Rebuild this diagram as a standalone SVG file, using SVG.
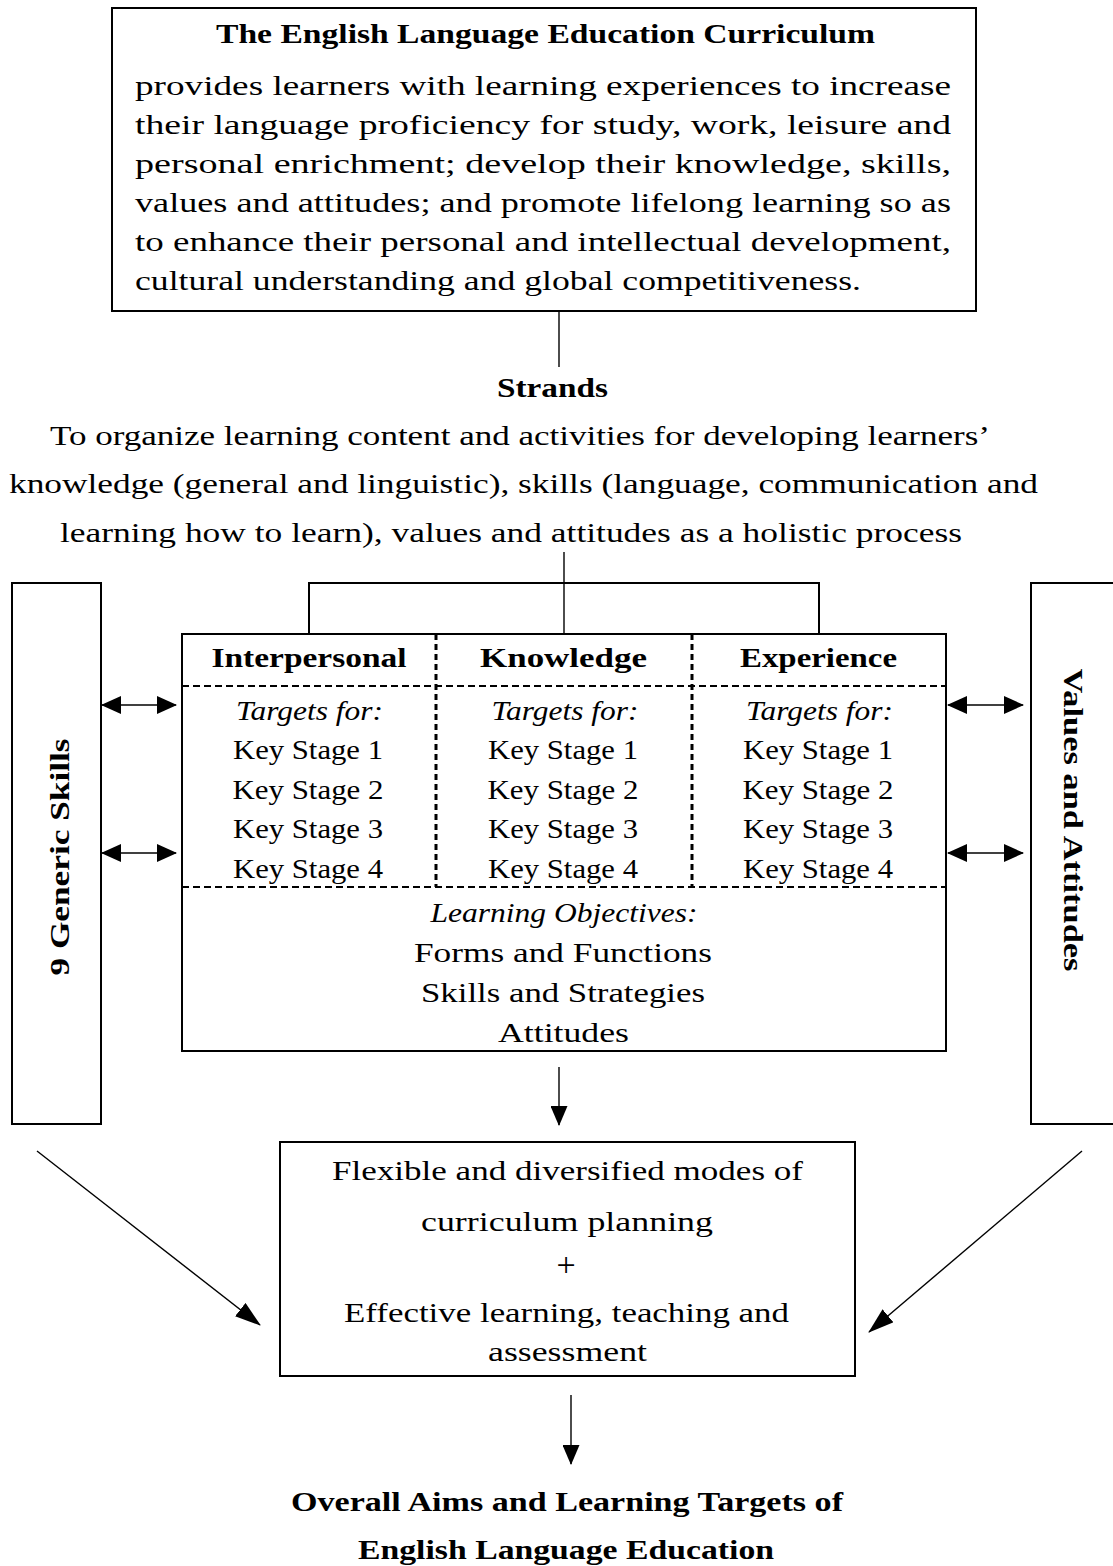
<svg xmlns="http://www.w3.org/2000/svg" width="1113" height="1566" viewBox="0 0 1113 1566">
<style>
.t{font-family:"Liberation Serif","Times New Roman",serif;font-size:28px;fill:#000}
.b{font-weight:bold}
.i{font-style:italic}
.box{fill:none;stroke:#000;stroke-width:2}
.ln{fill:none;stroke:#000;stroke-width:1.4}
.thk{fill:none;stroke:#000;stroke-width:2}
.dh{fill:none;stroke:#000;stroke-width:2;stroke-dasharray:7 4}
.dv{fill:none;stroke:#000;stroke-width:3;stroke-dasharray:6 4}
</style>
<defs>
<marker id="ah" viewBox="0 0 20 18" refX="19" refY="9" markerWidth="20" markerHeight="18" markerUnits="userSpaceOnUse" orient="auto-start-reverse"><path d="M0,0 L20,9 L0,18 Z" fill="#000"/></marker>
<marker id="dn" viewBox="0 0 20 17" refX="19" refY="8.5" markerWidth="20" markerHeight="17" markerUnits="userSpaceOnUse" orient="auto"><path d="M0,0 L20,8.5 L0,17 Z" fill="#000"/></marker>
<marker id="dg" viewBox="0 0 26 17" refX="25" refY="8.5" markerWidth="26" markerHeight="17" markerUnits="userSpaceOnUse" orient="auto"><path d="M0,0 L26,8.5 L0,17 Z" fill="#000"/></marker>
</defs>
<rect width="1113" height="1566" fill="#fff"/>

<g id="curriculum">
<rect class="box" x="112" y="8" width="864" height="303"/>
<text class="t b" x="216" y="43" textLength="659" lengthAdjust="spacingAndGlyphs">The English Language Education Curriculum</text>
<text class="t" x="135" y="95" textLength="816" lengthAdjust="spacingAndGlyphs">provides learners with learning experiences to increase</text>
<text class="t" x="135" y="134" textLength="816" lengthAdjust="spacingAndGlyphs">their language proficiency for study, work, leisure and</text>
<text class="t" x="135" y="173" textLength="816" lengthAdjust="spacingAndGlyphs">personal enrichment; develop their knowledge, skills,</text>
<text class="t" x="135" y="212" textLength="816" lengthAdjust="spacingAndGlyphs">values and attitudes; and promote lifelong learning so as</text>
<text class="t" x="135" y="251" textLength="816" lengthAdjust="spacingAndGlyphs">to enhance their personal and intellectual development,</text>
<text class="t" x="135" y="290" textLength="726" lengthAdjust="spacingAndGlyphs">cultural understanding and global competitiveness.</text>
</g>

<g id="strands">
<text class="t b" x="497" y="397" textLength="111" lengthAdjust="spacingAndGlyphs">Strands</text>
<text class="t" x="50" y="445" textLength="940" lengthAdjust="spacingAndGlyphs">To organize learning content and activities for developing learners’</text>
<text class="t" x="9" y="493" textLength="1029" lengthAdjust="spacingAndGlyphs">knowledge (general and linguistic), skills (language, communication and</text>
<text class="t" x="60" y="542" textLength="902" lengthAdjust="spacingAndGlyphs">learning how to learn), values and attitudes as a holistic process</text>
</g>

<g id="generic-skills">
<rect class="box" x="12" y="583" width="89" height="541"/>
<text class="t b" text-anchor="middle" transform="translate(69,857) rotate(-90)" textLength="237" lengthAdjust="spacingAndGlyphs">9 Generic Skills</text>
</g>

<g id="values-attitudes">
<rect class="box" x="1031" y="583" width="95" height="541"/>
<text class="t b" text-anchor="middle" transform="translate(1064,820) rotate(90)" textLength="303" lengthAdjust="spacingAndGlyphs">Values and Attitudes</text>
</g>

<g id="strand-table">
<rect class="box" x="182" y="634" width="764" height="417"/>
<line class="dh" x1="182" y1="686" x2="946" y2="686"/>
<line class="dh" x1="182" y1="887" x2="946" y2="887"/>
<line class="dv" x1="436" y1="634" x2="436" y2="887"/>
<line class="dv" x1="692" y1="634" x2="692" y2="887"/>
<text class="t b" text-anchor="middle" x="309" y="667" textLength="195" lengthAdjust="spacingAndGlyphs">Interpersonal</text>
<text class="t b" text-anchor="middle" x="563.5" y="667" textLength="167" lengthAdjust="spacingAndGlyphs">Knowledge</text>
<text class="t b" text-anchor="middle" x="818.5" y="667" textLength="157" lengthAdjust="spacingAndGlyphs">Experience</text>
<g text-anchor="middle">
<text class="t i" x="309.5" y="720" textLength="147" lengthAdjust="spacingAndGlyphs">Targets for:</text>
<text class="t" x="308" y="759" textLength="150" lengthAdjust="spacingAndGlyphs">Key Stage 1</text>
<text class="t" x="308" y="799" textLength="151" lengthAdjust="spacingAndGlyphs">Key Stage 2</text>
<text class="t" x="308" y="838" textLength="150" lengthAdjust="spacingAndGlyphs">Key Stage 3</text>
<text class="t" x="308" y="878" textLength="150" lengthAdjust="spacingAndGlyphs">Key Stage 4</text>
<text class="t i" x="565" y="720" textLength="147" lengthAdjust="spacingAndGlyphs">Targets for:</text>
<text class="t" x="563" y="759" textLength="150" lengthAdjust="spacingAndGlyphs">Key Stage 1</text>
<text class="t" x="563" y="799" textLength="151" lengthAdjust="spacingAndGlyphs">Key Stage 2</text>
<text class="t" x="563" y="838" textLength="150" lengthAdjust="spacingAndGlyphs">Key Stage 3</text>
<text class="t" x="563" y="878" textLength="150" lengthAdjust="spacingAndGlyphs">Key Stage 4</text>
<text class="t i" x="819.5" y="720" textLength="147" lengthAdjust="spacingAndGlyphs">Targets for:</text>
<text class="t" x="818" y="759" textLength="150" lengthAdjust="spacingAndGlyphs">Key Stage 1</text>
<text class="t" x="818" y="799" textLength="151" lengthAdjust="spacingAndGlyphs">Key Stage 2</text>
<text class="t" x="818" y="838" textLength="150" lengthAdjust="spacingAndGlyphs">Key Stage 3</text>
<text class="t" x="818" y="878" textLength="150" lengthAdjust="spacingAndGlyphs">Key Stage 4</text>
<text class="t i" x="564" y="922" textLength="267" lengthAdjust="spacingAndGlyphs">Learning Objectives:</text>
<text class="t" x="563" y="962" textLength="298" lengthAdjust="spacingAndGlyphs">Forms and Functions</text>
<text class="t" x="563" y="1002" textLength="284" lengthAdjust="spacingAndGlyphs">Skills and Strategies</text>
<text class="t" x="563.5" y="1042" textLength="131" lengthAdjust="spacingAndGlyphs">Attitudes</text>
</g>
</g>

<g id="planning">
<rect class="box" x="280" y="1142" width="575" height="234"/>
<g text-anchor="middle">
<text class="t" x="567.5" y="1180" textLength="471" lengthAdjust="spacingAndGlyphs">Flexible and diversified modes of</text>
<text class="t" x="567" y="1231" textLength="292" lengthAdjust="spacingAndGlyphs">curriculum planning</text>
<text class="t" x="566" y="1276" style="font-size:34px">+</text>
<text class="t" x="566.5" y="1322" textLength="445" lengthAdjust="spacingAndGlyphs">Effective learning, teaching and</text>
<text class="t" x="567.5" y="1361" textLength="159" lengthAdjust="spacingAndGlyphs">assessment</text>
</g>
</g>

<g id="aims">
<g text-anchor="middle">
<text class="t b" x="567" y="1511" textLength="552" lengthAdjust="spacingAndGlyphs">Overall Aims and Learning Targets of</text>
<text class="t b" x="566" y="1559" textLength="416" lengthAdjust="spacingAndGlyphs">English Language Education</text>
</g>
</g>

<g id="connectors">
<line class="ln" x1="559" y1="311" x2="559" y2="367"/>
<line class="ln" x1="564" y1="552" x2="564" y2="634"/>
<polyline class="thk" points="309,634 309,583 819,583 819,634"/>
<line class="ln" x1="102" y1="705" x2="176" y2="705" marker-start="url(#ah)" marker-end="url(#ah)"/>
<line class="ln" x1="102" y1="853" x2="176" y2="853" marker-start="url(#ah)" marker-end="url(#ah)"/>
<line class="ln" x1="948" y1="705" x2="1023" y2="705" marker-start="url(#ah)" marker-end="url(#ah)"/>
<line class="ln" x1="948" y1="853" x2="1023" y2="853" marker-start="url(#ah)" marker-end="url(#ah)"/>
<line class="ln" x1="559" y1="1067" x2="559" y2="1125" marker-end="url(#dn)"/>
<line class="ln" x1="571" y1="1395" x2="571" y2="1464" marker-end="url(#dn)"/>
<line class="ln" x1="37" y1="1151" x2="260" y2="1325" marker-end="url(#dg)"/>
<line class="ln" x1="1082" y1="1151" x2="869" y2="1332" marker-end="url(#dg)"/>
</g>
</svg>
